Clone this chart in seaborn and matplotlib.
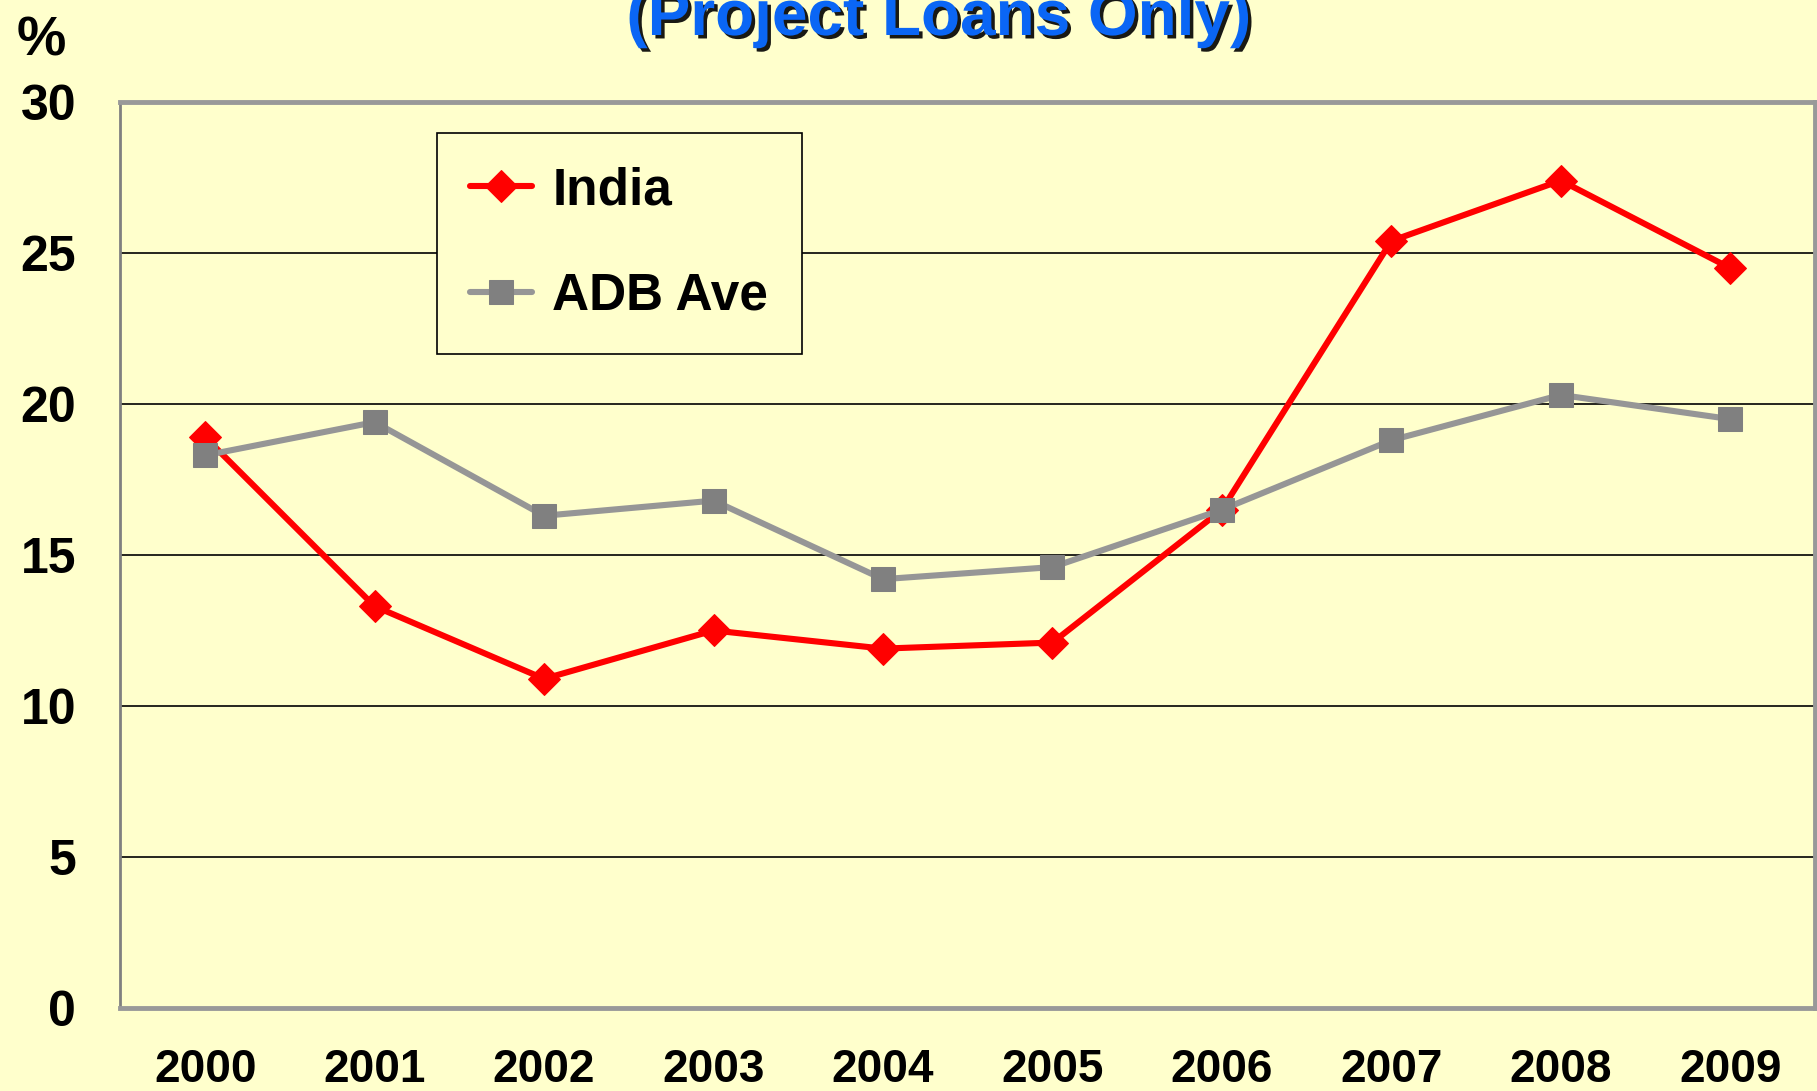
import numpy as np
import pandas as pd
import seaborn as sns
import matplotlib.pyplot as plt
import matplotlib.patheffects as pe

# Data
years = ['2000', '2001', '2002', '2003', '2004', '2005', '2006', '2007', '2008', '2009']
india = [18.9, 13.3, 10.9, 12.5, 11.9, 12.1, 16.5, 25.4, 27.4, 24.5]
adb_ave = [18.3, 19.4, 16.3, 16.8, 14.2, 14.6, 16.5, 18.8, 20.3, 19.5]
y_ticks = [0, 5, 10, 15, 20, 25, 30]

bg = '#FFFFCC'

sns.set_style('white')
plt.rcParams['font.family'] = ['Liberation Sans', 'DejaVu Sans']
plt.rcParams['font.weight'] = 'bold'
plt.rcParams['text.color'] = 'black'
plt.rcParams['xtick.color'] = 'black'
plt.rcParams['ytick.color'] = 'black'

df = pd.DataFrame({'pos': range(len(years)), 'India': india, 'ADB Ave': adb_ave})

fig = plt.figure(figsize=(18.17, 10.91), dpi=100, facecolor=bg)
ax = fig.add_axes([0.0663, 0.0761, 0.9326, 0.8304])
ax.set_facecolor(bg)

# Series lines
sns.lineplot(data=df, x='pos', y='India', ax=ax, color='#FF0000', lw=4.4,
             marker='D', markersize=16, markeredgecolor='#FF0000',
             label='India', zorder=3)
sns.lineplot(data=df, x='pos', y='ADB Ave', ax=ax, color='#969696', lw=4.4,
             marker='s', markersize=17, markerfacecolor='#808080',
             markeredgecolor='#808080', label='ADB Ave', zorder=4)

# Axes setup
ax.set_xlim(-0.5, len(years) - 0.5)
ax.set_ylim(0, 30)
ax.set_xticks(range(len(years)))
ax.set_xticklabels(years)
ax.set_xticks(np.arange(-0.5, len(years), 1), minor=True)
ax.set_yticks(y_ticks)
ax.tick_params(axis='x', which='major', length=0, pad=29, labelsize=33)
ax.tick_params(axis='x', which='minor', length=12, width=1.2, color='black', direction='out')
ax.tick_params(axis='y', length=9, width=1.2, color='black', direction='out', pad=23, labelsize=36)
ax.set_xlabel('')
ax.set_ylabel('')

ax.yaxis.grid(True, color='black', lw=1.2)
ax.set_axisbelow(True)

for side in ['top', 'right', 'bottom']:
    ax.spines[side].set_color('#999999')
    ax.spines[side].set_linewidth(3.5)
ax.spines['left'].set_color('#808080')
ax.spines['left'].set_linewidth(2)

# Legend
leg = ax.legend(loc='upper left', bbox_to_anchor=(0.1867, 0.9658), fontsize=37,
                frameon=True, fancybox=False, edgecolor='black', facecolor=bg,
                framealpha=1, borderpad=0.65, labelspacing=1.1, handlelength=1.2,
                handletextpad=0.4, borderaxespad=0)
leg.get_frame().set_linewidth(1.2)

# Unit label and (cropped) title
fig.text(17 / 1817, 1 - 56 / 1091, '%', fontsize=40, fontweight='bold', va='baseline', ha='left')
fig.text(0.5166, 1 - 35 / 1091, '(Project Loans Only)', ha='center', va='baseline',
         fontsize=46, fontweight='bold', color='#0A66F5',
         path_effects=[pe.withSimplePatchShadow(offset=(2.5, -2.5), shadow_rgbFace='black', alpha=0.9)])

fig.savefig('out.png', dpi=100, facecolor=fig.get_facecolor())
